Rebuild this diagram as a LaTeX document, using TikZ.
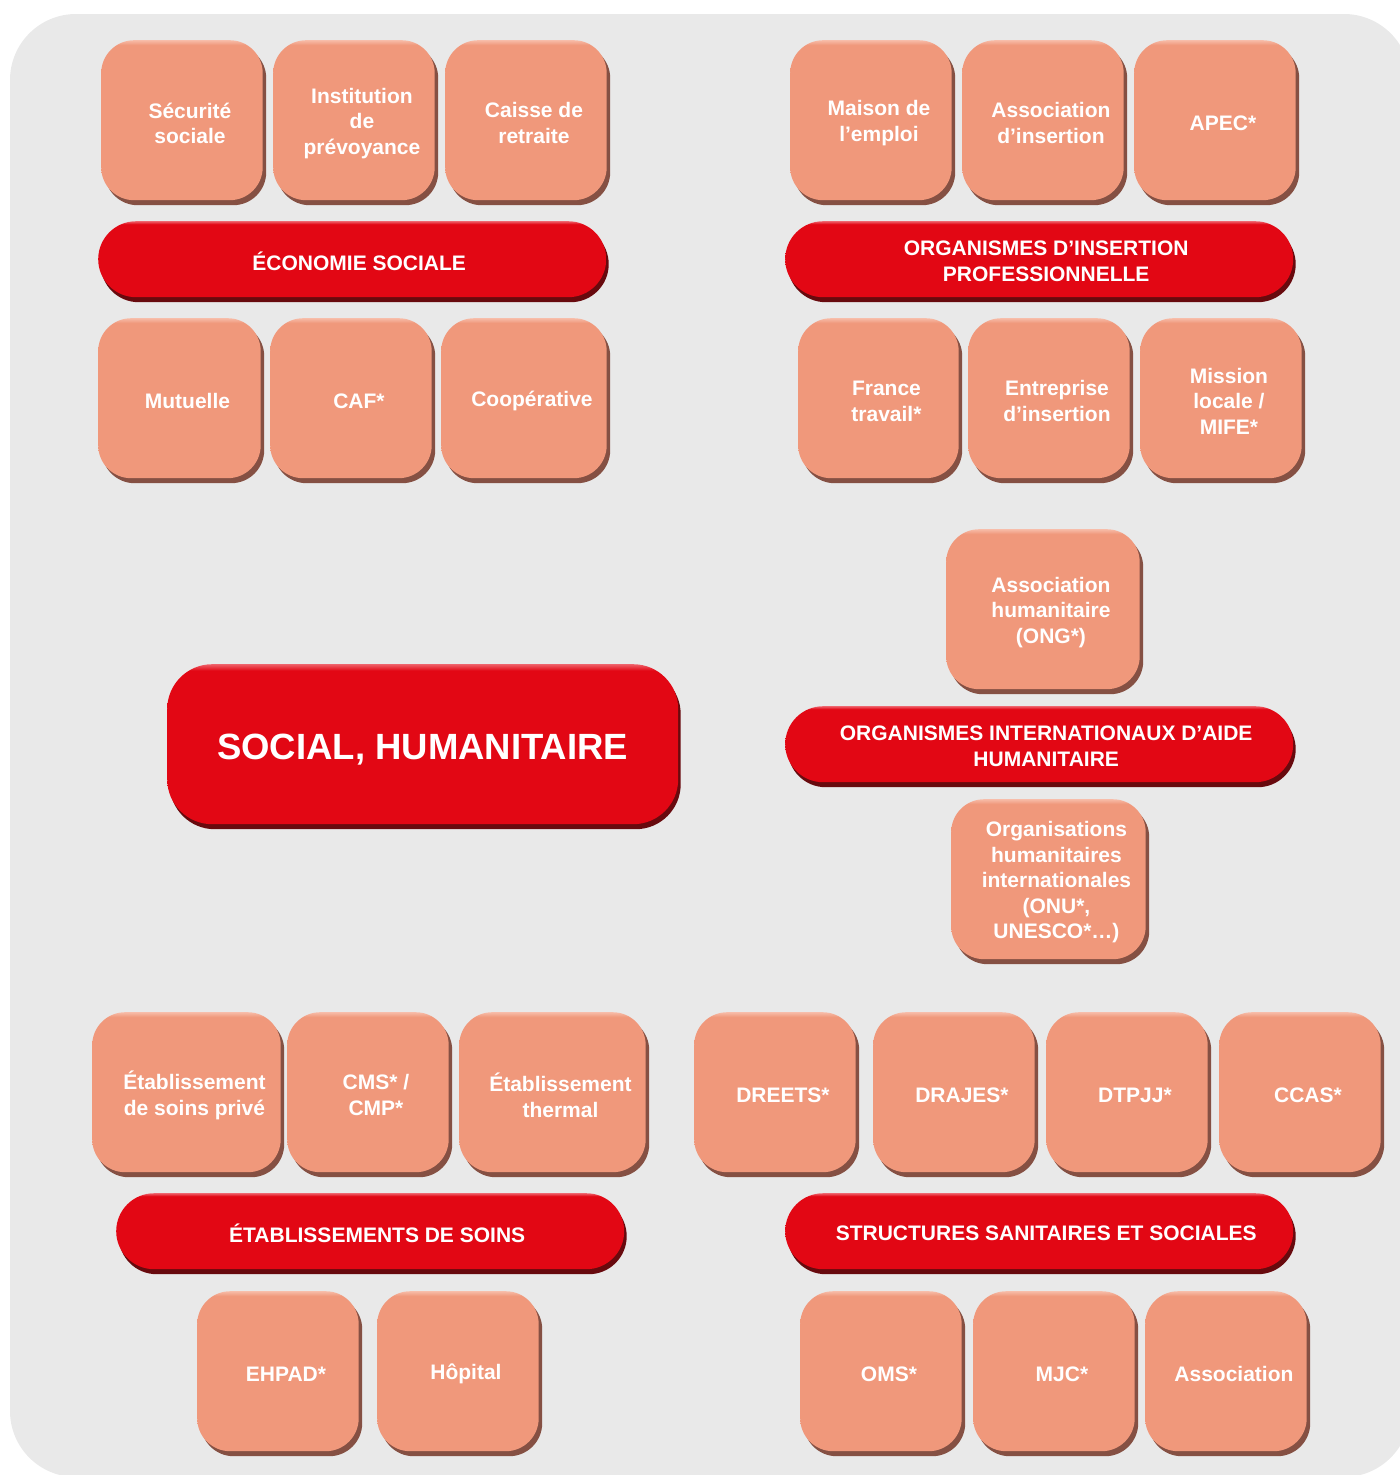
\documentclass[tikz,border=0pt]{standalone}
\usepackage{fontspec}
\setmainfont{Liberation Sans}
\usetikzlibrary{shadows}
\definecolor{bggrey}{HTML}{E9E9E9}
\definecolor{tile}{HTML}{F0987B}
\definecolor{tilelight}{HTML}{F7BCA8}
\definecolor{tiledark}{HTML}{855043}
\definecolor{bar}{HTML}{E20714}
\definecolor{barlight}{HTML}{EE6069}
\definecolor{bardark}{HTML}{680A0E}
\pgfdeclareverticalshading{tileshade}{100bp}{color(0bp)=(tile); color(73.5bp)=(tile); color(75bp)=(tilelight); color(100bp)=(tilelight)}
\pgfdeclareverticalshading{barshade}{100bp}{color(0bp)=(bar); color(73bp)=(bar); color(75bp)=(barlight); color(100bp)=(barlight)}
\begin{document}
\begin{tikzpicture}[x=1pt,y=-1pt,
	tile/.style={shade, shading=tileshade, rounded corners=33pt, anchor=north west, inner sep=0pt, minimum height=160pt,
		drop shadow={shadow xshift=3.5pt, shadow yshift=-5pt, fill=tiledark, opacity=1}},
	bar/.style={shade, shading=barshade, rounded corners=38pt, anchor=north west, inner sep=0pt, minimum height=76pt,
		drop shadow={shadow xshift=2.5pt, shadow yshift=-5pt, fill=bardark, opacity=1}},
	tiletxt/.style={text=white, align=center, inner sep=0pt, font=\bfseries\fontsize{21}{25.5}\selectfont},
	bigtxt/.style={text=white, align=center, inner sep=0pt, font=\bfseries\fontsize{36.5}{40}\selectfont}]
	\useasboundingbox (0,0) rectangle (1400,1475);
	\clip (0,0) rectangle (1400,1475);
	\fill[bggrey, rounded corners=66pt] (10,14) rectangle (1410,1477);
	
	% salmon tiles: name/left/top/width/text
	\foreach \n/\l/\t/\w/\txt in {
		secu/101/40/165/{Sécurité\\sociale}, inst/273/40/165/{Institution\\de\\prévoyance}, caisse/445/40/165/{Caisse de\\retraite},
		mutu/98/318/166/{Mutuelle}, caf/270/318/165/{CAF*}, coop/441/318/169/{Coopérative},
		maison/790/40/165/{Maison de\\l’emploi}, assins/962/40/165/{Association\\d’insertion}, apec/1134/40/165/{APEC*},
		france/798/318/164/{France\\travail*}, entr/968/318/165/{Entreprise\\d’insertion}, mission/1140/318/165/{Mission\\locale /\\MIFE*},
		ong/946/529/197/{Association\\humanitaire\\(ONG*)}, onu/951/799/198/{Organisations\\humanitaires\\internationales\\(ONU*,\\UNESCO*…)},
		prive/92/1012/192/{Établissement\\de soins privé}, cms/287/1012/165/{CMS* /\\CMP*}, therm/459/1012/190/{Établissement\\thermal},
		ehpad/197/1291/165/{EHPAD*}, hop/377/1291/165/{Hôpital},
		dreets/694/1012/165/{DREETS*}, drajes/873/1012/165/{DRAJES*}, dtpjj/1046/1012/165/{DTPJJ*}, ccas/1219/1012/165/{CCAS*},
		oms/800/1291/165/{OMS*}, mjc/973/1291/165/{MJC*}, asso/1145/1291/165/{Association}}{
		\node[tile, minimum width=\w-3.5] (\n) at (\l,\t) {};
		\node[tiletxt] (\n-t) at ([xshift=8pt,yshift=-3pt]\n.center) {\txt};
	}
	
	% red bars
	\foreach \n/\l/\t/\txt in {
		eco/98/221/{ÉCONOMIE SOCIALE}, insert/785/221/{ORGANISMES D’INSERTION\\PROFESSIONNELLE},
		intl/785/706/{ORGANISMES INTERNATIONAUX D’AIDE\\HUMANITAIRE},
		soins/116/1193/{ÉTABLISSEMENTS DE SOINS}, struct/785/1193/{STRUCTURES SANITAIRES ET SOCIALES}}{
		\node[bar, minimum width=508pt] (\n) at (\l,\t) {};
		\node[tiletxt] (\n-t) at ([xshift=7pt,yshift=-2pt]\n.center) {\txt};
	}
	
	\node[bar, rounded corners=45pt, minimum width=511pt, minimum height=160pt] (social) at (167,664) {};
	\node[bigtxt] (social-t) at ([yshift=-5pt]social.center) {SOCIAL, HUMANITAIRE};
\end{tikzpicture}
\end{document}
